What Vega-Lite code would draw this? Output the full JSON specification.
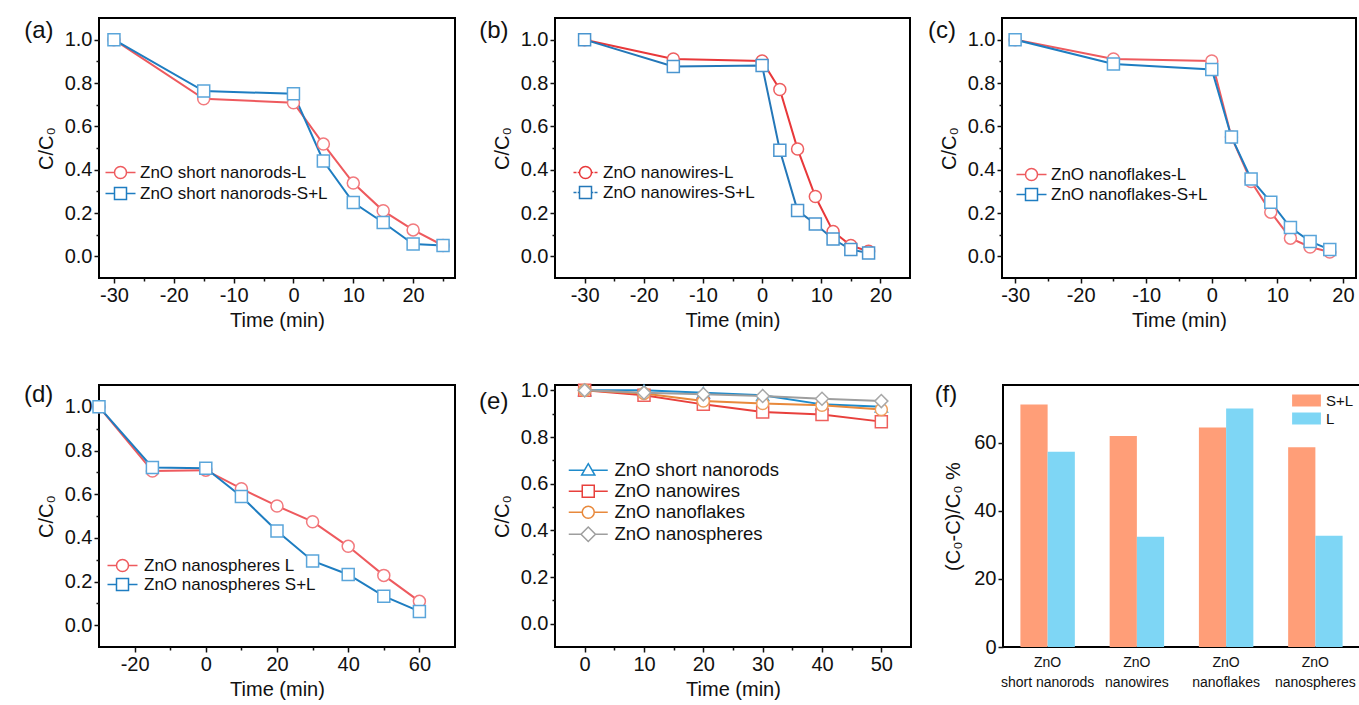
{
  "$schema": "https://vega.github.io/schema/vega-lite/v6.json",
  "background": "white",
  "padding": {"left": 22, "top": 17, "right": 0, "bottom": 0},
  "config": {
    "font": "Liberation Sans",
    "view": {"stroke": "black", "strokeWidth": 2},
    "axis": {"domain": false, "grid": false, "labelFontSize": 20, "titleFontSize": 20, "titleFontWeight": "normal", "labelColor": "#111", "titleColor": "#111", "tickColor": "#111", "tickWidth": 1.5, "labelOverlap": false, "labelFlush": false, "labelPadding": 2},
    "axisX": {"titlePadding": 5},
    "axisY": {"titlePadding": 8},
    "legend": {"labelFontSize": 17, "labelColor": "#111", "padding": 0, "symbolSize": 144, "labelLimit": 400},
    "text": {"fontSize": 24, "color": "#111", "align": "left", "baseline": "alphabetic"}
  },
  "datasets": {
    "a": [
      {"t": -30, "c": 1.0, "s": "ZnO short nanorods-L"},
      {"t": -15, "c": 0.727, "s": "ZnO short nanorods-L"},
      {"t": 0, "c": 0.709, "s": "ZnO short nanorods-L"},
      {"t": 5, "c": 0.518, "s": "ZnO short nanorods-L"},
      {"t": 10, "c": 0.338, "s": "ZnO short nanorods-L"},
      {"t": 15, "c": 0.21, "s": "ZnO short nanorods-L"},
      {"t": 20, "c": 0.122, "s": "ZnO short nanorods-L"},
      {"t": 25, "c": 0.05, "s": "ZnO short nanorods-L"},
      {"t": -30, "c": 1.0, "s": "ZnO short nanorods-S+L"},
      {"t": -15, "c": 0.763, "s": "ZnO short nanorods-S+L"},
      {"t": 0, "c": 0.75, "s": "ZnO short nanorods-S+L"},
      {"t": 5, "c": 0.44, "s": "ZnO short nanorods-S+L"},
      {"t": 10, "c": 0.248, "s": "ZnO short nanorods-S+L"},
      {"t": 15, "c": 0.156, "s": "ZnO short nanorods-S+L"},
      {"t": 20, "c": 0.057, "s": "ZnO short nanorods-S+L"},
      {"t": 25, "c": 0.05, "s": "ZnO short nanorods-S+L"}
    ],
    "b": [
      {"t": -30, "c": 1.0, "s": "ZnO nanowires-L"},
      {"t": -15, "c": 0.911, "s": "ZnO nanowires-L"},
      {"t": 0, "c": 0.902, "s": "ZnO nanowires-L"},
      {"t": 3, "c": 0.77, "s": "ZnO nanowires-L"},
      {"t": 6, "c": 0.495, "s": "ZnO nanowires-L"},
      {"t": 9, "c": 0.276, "s": "ZnO nanowires-L"},
      {"t": 12, "c": 0.115, "s": "ZnO nanowires-L"},
      {"t": 15, "c": 0.05, "s": "ZnO nanowires-L"},
      {"t": 18, "c": 0.023, "s": "ZnO nanowires-L"},
      {"t": -30, "c": 1.0, "s": "ZnO nanowires-S+L"},
      {"t": -15, "c": 0.876, "s": "ZnO nanowires-S+L"},
      {"t": 0, "c": 0.881, "s": "ZnO nanowires-S+L"},
      {"t": 3, "c": 0.49, "s": "ZnO nanowires-S+L"},
      {"t": 6, "c": 0.211, "s": "ZnO nanowires-S+L"},
      {"t": 9, "c": 0.149, "s": "ZnO nanowires-S+L"},
      {"t": 12, "c": 0.08, "s": "ZnO nanowires-S+L"},
      {"t": 15, "c": 0.031, "s": "ZnO nanowires-S+L"},
      {"t": 18, "c": 0.015, "s": "ZnO nanowires-S+L"}
    ],
    "c": [
      {"t": -30, "c": 1.0, "s": "ZnO nanoflakes-L"},
      {"t": -15, "c": 0.911, "s": "ZnO nanoflakes-L"},
      {"t": 0, "c": 0.902, "s": "ZnO nanoflakes-L"},
      {"t": 3, "c": 0.551, "s": "ZnO nanoflakes-L"},
      {"t": 6, "c": 0.345, "s": "ZnO nanoflakes-L"},
      {"t": 9, "c": 0.204, "s": "ZnO nanoflakes-L"},
      {"t": 12, "c": 0.084, "s": "ZnO nanoflakes-L"},
      {"t": 15, "c": 0.043, "s": "ZnO nanoflakes-L"},
      {"t": 18, "c": 0.02, "s": "ZnO nanoflakes-L"},
      {"t": -30, "c": 1.0, "s": "ZnO nanoflakes-S+L"},
      {"t": -15, "c": 0.888, "s": "ZnO nanoflakes-S+L"},
      {"t": 0, "c": 0.862, "s": "ZnO nanoflakes-S+L"},
      {"t": 3, "c": 0.551, "s": "ZnO nanoflakes-S+L"},
      {"t": 6, "c": 0.357, "s": "ZnO nanoflakes-S+L"},
      {"t": 9, "c": 0.25, "s": "ZnO nanoflakes-S+L"},
      {"t": 12, "c": 0.133, "s": "ZnO nanoflakes-S+L"},
      {"t": 15, "c": 0.069, "s": "ZnO nanoflakes-S+L"},
      {"t": 18, "c": 0.031, "s": "ZnO nanoflakes-S+L"}
    ],
    "d": [
      {"t": -30, "c": 1.0, "s": "ZnO nanospheres L"},
      {"t": -15, "c": 0.706, "s": "ZnO nanospheres L"},
      {"t": 0, "c": 0.71, "s": "ZnO nanospheres L"},
      {"t": 10, "c": 0.625, "s": "ZnO nanospheres L"},
      {"t": 20, "c": 0.546, "s": "ZnO nanospheres L"},
      {"t": 30, "c": 0.474, "s": "ZnO nanospheres L"},
      {"t": 40, "c": 0.361, "s": "ZnO nanospheres L"},
      {"t": 50, "c": 0.228, "s": "ZnO nanospheres L"},
      {"t": 60, "c": 0.109, "s": "ZnO nanospheres L"},
      {"t": -30, "c": 1.0, "s": "ZnO nanospheres S+L"},
      {"t": -15, "c": 0.722, "s": "ZnO nanospheres S+L"},
      {"t": 0, "c": 0.719, "s": "ZnO nanospheres S+L"},
      {"t": 10, "c": 0.589, "s": "ZnO nanospheres S+L"},
      {"t": 20, "c": 0.431, "s": "ZnO nanospheres S+L"},
      {"t": 30, "c": 0.294, "s": "ZnO nanospheres S+L"},
      {"t": 40, "c": 0.232, "s": "ZnO nanospheres S+L"},
      {"t": 50, "c": 0.133, "s": "ZnO nanospheres S+L"},
      {"t": 60, "c": 0.063, "s": "ZnO nanospheres S+L"}
    ],
    "e": [
      {"t": 0, "c": 1.0, "s": "ZnO short nanorods"},
      {"t": 10, "c": 1.0, "s": "ZnO short nanorods"},
      {"t": 20, "c": 0.99, "s": "ZnO short nanorods"},
      {"t": 30, "c": 0.979, "s": "ZnO short nanorods"},
      {"t": 40, "c": 0.94, "s": "ZnO short nanorods"},
      {"t": 50, "c": 0.93, "s": "ZnO short nanorods"},
      {"t": 0, "c": 1.0, "s": "ZnO nanowires"},
      {"t": 10, "c": 0.979, "s": "ZnO nanowires"},
      {"t": 20, "c": 0.94, "s": "ZnO nanowires"},
      {"t": 30, "c": 0.907, "s": "ZnO nanowires"},
      {"t": 40, "c": 0.897, "s": "ZnO nanowires"},
      {"t": 50, "c": 0.866, "s": "ZnO nanowires"},
      {"t": 0, "c": 1.0, "s": "ZnO nanoflakes"},
      {"t": 10, "c": 0.987, "s": "ZnO nanoflakes"},
      {"t": 20, "c": 0.954, "s": "ZnO nanoflakes"},
      {"t": 30, "c": 0.944, "s": "ZnO nanoflakes"},
      {"t": 40, "c": 0.936, "s": "ZnO nanoflakes"},
      {"t": 50, "c": 0.918, "s": "ZnO nanoflakes"},
      {"t": 0, "c": 1.0, "s": "ZnO nanospheres"},
      {"t": 10, "c": 0.99, "s": "ZnO nanospheres"},
      {"t": 20, "c": 0.983, "s": "ZnO nanospheres"},
      {"t": 30, "c": 0.976, "s": "ZnO nanospheres"},
      {"t": 40, "c": 0.964, "s": "ZnO nanospheres"},
      {"t": 50, "c": 0.954, "s": "ZnO nanospheres"}
    ],
    "f": [
      {"cat": "ZnO short nanorods", "s": "S+L", "v": 71.3},
      {"cat": "ZnO short nanorods", "s": "L", "v": 57.4},
      {"cat": "ZnO nanowires", "s": "S+L", "v": 62.0},
      {"cat": "ZnO nanowires", "s": "L", "v": 32.4},
      {"cat": "ZnO nanoflakes", "s": "S+L", "v": 64.5},
      {"cat": "ZnO nanoflakes", "s": "L", "v": 70.1},
      {"cat": "ZnO nanospheres", "s": "S+L", "v": 58.7},
      {"cat": "ZnO nanospheres", "s": "L", "v": 32.7}
    ]
  },
  "spacing": 48,
  "resolve": {"scale": {"color": "independent", "x": "independent", "y": "independent", "xOffset": "independent"}, "legend": {"color": "independent"}},
  "vconcat": [
    {
      "spacing": 100,
      "bounds": "flush",
      "resolve": {"scale": {"color": "independent", "x": "independent", "y": "independent"}, "legend": {"color": "independent"}},
      "hconcat": [
        {
          "width": 356, "height": 260,
          "layer": [
            {"data": {"name": "a"}, "mark": {"type": "line", "strokeWidth": 2},
              "encoding": {
                "x": {"field": "t", "type": "quantitative", "title": "Time (min)", "scale": {"domain": [-32.5, 27], "nice": false, "zero": false}, "axis": {"values": [-30, -25, -20, -15, -10, -5, 0, 5, 10, 15, 20, 25], "labelExpr": "datum.value % 10 == 0 ? '' + datum.value : ''", "tickSize": {"condition": {"test": "datum.value % 10 == 0", "value": 5}, "value": 3}}},
                "y": {"field": "c", "type": "quantitative", "title": "C/C₀", "scale": {"domain": [-0.1, 1.1], "nice": false, "zero": false}, "axis": {"values": [0, 0.1, 0.2, 0.3, 0.4, 0.5, 0.6, 0.7, 0.8, 0.9, 1.0], "labelExpr": "round(datum.value * 10) % 2 == 0 ? format(datum.value, '.1f') : ''", "tickSize": {"condition": {"test": "round(datum.value * 10) % 2 == 0", "value": 5}, "value": 3}}},
                "color": {"field": "s", "type": "nominal", "scale": {"domain": ["ZnO short nanorods-L", "ZnO short nanorods-S+L"], "range": ["#EE5A5E", "#1E7DC1"]},
                  "legend": {"title": null, "orient": "none", "legendX": 13, "legendY": 146, "labelOffset": 11, "rowPadding": 2,
                    "encode": {"symbols": {"update": {"shape": {"signal": "indexof(datum.value, 'S+L') >= 0 ? 'M-2.5,0H-1M1,0H2.5M-1,-1H1V1H-1Z' : 'M-2.5,0H-1M1,0H2.5M-1,0A1,1,0,1,1,1,0A1,1,0,1,1,-1,0Z'"}, "fill": {"value": "white"}, "strokeWidth": {"value": 1.5}, "opacity": {"value": 1}}}}}}}},
            {"data": {"name": "a"}, "transform": [{"filter": "datum.s == 'ZnO short nanorods-L'"}], "mark": {"type": "point", "shape": "circle", "filled": true, "fill": "white", "stroke": "#F27A7E", "size": 144, "strokeWidth": 1.5, "opacity": 1},
              "encoding": {
                "x": {"field": "t", "type": "quantitative", "title": "Time (min)", "scale": {"domain": [-32.5, 27], "nice": false, "zero": false}, "axis": {"values": [-30, -25, -20, -15, -10, -5, 0, 5, 10, 15, 20, 25], "labelExpr": "datum.value % 10 == 0 ? '' + datum.value : ''", "tickSize": {"condition": {"test": "datum.value % 10 == 0", "value": 5}, "value": 3}}},
                "y": {"field": "c", "type": "quantitative", "title": "C/C₀", "scale": {"domain": [-0.1, 1.1], "nice": false, "zero": false}, "axis": {"values": [0, 0.1, 0.2, 0.3, 0.4, 0.5, 0.6, 0.7, 0.8, 0.9, 1.0], "labelExpr": "round(datum.value * 10) % 2 == 0 ? format(datum.value, '.1f') : ''", "tickSize": {"condition": {"test": "round(datum.value * 10) % 2 == 0", "value": 5}, "value": 3}}}}},
            {"data": {"name": "a"}, "transform": [{"filter": "datum.s == 'ZnO short nanorods-S+L'"}], "mark": {"type": "point", "shape": "square", "filled": true, "fill": "white", "stroke": "#5AA5DA", "size": 144, "strokeWidth": 1.5, "opacity": 1},
              "encoding": {
                "x": {"field": "t", "type": "quantitative", "title": "Time (min)", "scale": {"domain": [-32.5, 27], "nice": false, "zero": false}, "axis": {"values": [-30, -25, -20, -15, -10, -5, 0, 5, 10, 15, 20, 25], "labelExpr": "datum.value % 10 == 0 ? '' + datum.value : ''", "tickSize": {"condition": {"test": "datum.value % 10 == 0", "value": 5}, "value": 3}}},
                "y": {"field": "c", "type": "quantitative", "title": "C/C₀", "scale": {"domain": [-0.1, 1.1], "nice": false, "zero": false}, "axis": {"values": [0, 0.1, 0.2, 0.3, 0.4, 0.5, 0.6, 0.7, 0.8, 0.9, 1.0], "labelExpr": "round(datum.value * 10) % 2 == 0 ? format(datum.value, '.1f') : ''", "tickSize": {"condition": {"test": "round(datum.value * 10) % 2 == 0", "value": 5}, "value": 3}}}}},
            {"data": {"values": [{"label": "(a)"}]}, "mark": {"type": "text"},
              "encoding": {
                "x": {"datum": -45, "type": "quantitative", "title": "Time (min)", "scale": {"domain": [-32.5, 27], "nice": false, "zero": false}, "axis": {"values": [-30, -25, -20, -15, -10, -5, 0, 5, 10, 15, 20, 25], "labelExpr": "datum.value % 10 == 0 ? '' + datum.value : ''", "tickSize": {"condition": {"test": "datum.value % 10 == 0", "value": 5}, "value": 3}}},
                "y": {"datum": 1.008, "type": "quantitative", "title": "C/C₀", "scale": {"domain": [-0.1, 1.1], "nice": false, "zero": false}, "axis": {"values": [0, 0.1, 0.2, 0.3, 0.4, 0.5, 0.6, 0.7, 0.8, 0.9, 1.0], "labelExpr": "round(datum.value * 10) % 2 == 0 ? format(datum.value, '.1f') : ''", "tickSize": {"condition": {"test": "round(datum.value * 10) % 2 == 0", "value": 5}, "value": 3}}},
                "text": {"field": "label"}}}
          ]
        },
        {
          "spacing": 92,
          "bounds": "flush",
          "resolve": {"scale": {"color": "independent", "x": "independent", "y": "independent"}, "legend": {"color": "independent"}},
          "hconcat": [
            {
              "width": 355, "height": 260,
              "layer": [
                {"data": {"name": "b"}, "mark": {"type": "line", "strokeWidth": 2},
                  "encoding": {
                    "x": {"field": "t", "type": "quantitative", "title": "Time (min)", "scale": {"domain": [-35, 25], "nice": false, "zero": false}, "axis": {"values": [-30, -25, -20, -15, -10, -5, 0, 5, 10, 15, 20], "labelExpr": "datum.value % 10 == 0 ? '' + datum.value : ''", "tickSize": {"condition": {"test": "datum.value % 10 == 0", "value": 5}, "value": 3}}},
                    "y": {"field": "c", "type": "quantitative", "title": "C/C₀", "scale": {"domain": [-0.1, 1.1], "nice": false, "zero": false}, "axis": {"values": [0, 0.1, 0.2, 0.3, 0.4, 0.5, 0.6, 0.7, 0.8, 0.9, 1.0], "labelExpr": "round(datum.value * 10) % 2 == 0 ? format(datum.value, '.1f') : ''", "tickSize": {"condition": {"test": "round(datum.value * 10) % 2 == 0", "value": 5}, "value": 3}}},
                    "color": {"field": "s", "type": "nominal", "scale": {"domain": ["ZnO nanowires-L", "ZnO nanowires-S+L"], "range": ["#E8383A", "#2477B8"]},
                      "legend": {"title": null, "orient": "none", "legendX": 22, "legendY": 146, "labelOffset": 9, "rowPadding": 1,
                        "encode": {"symbols": {"update": {"shape": {"signal": "indexof(datum.value, 'S+L') >= 0 ? 'M-2,0H-1.5M-1.3,0H-1M1,0H1.3M1.5,0H2M-1,-1H1V1H-1Z' : 'M-2,0H-1.5M-1.3,0H-1M1,0H1.3M1.5,0H2M-1,0A1,1,0,1,1,1,0A1,1,0,1,1,-1,0Z'"}, "fill": {"value": "white"}, "strokeWidth": {"value": 1.5}, "opacity": {"value": 1}}}}}}}},
                {"data": {"name": "b"}, "transform": [{"filter": "datum.s == 'ZnO nanowires-L'"}], "mark": {"type": "point", "shape": "circle", "filled": true, "fill": "white", "stroke": "#EE5F60", "size": 144, "strokeWidth": 1.5, "opacity": 1},
                  "encoding": {
                    "x": {"field": "t", "type": "quantitative", "title": "Time (min)", "scale": {"domain": [-35, 25], "nice": false, "zero": false}, "axis": {"values": [-30, -25, -20, -15, -10, -5, 0, 5, 10, 15, 20], "labelExpr": "datum.value % 10 == 0 ? '' + datum.value : ''", "tickSize": {"condition": {"test": "datum.value % 10 == 0", "value": 5}, "value": 3}}},
                    "y": {"field": "c", "type": "quantitative", "title": "C/C₀", "scale": {"domain": [-0.1, 1.1], "nice": false, "zero": false}, "axis": {"values": [0, 0.1, 0.2, 0.3, 0.4, 0.5, 0.6, 0.7, 0.8, 0.9, 1.0], "labelExpr": "round(datum.value * 10) % 2 == 0 ? format(datum.value, '.1f') : ''", "tickSize": {"condition": {"test": "round(datum.value * 10) % 2 == 0", "value": 5}, "value": 3}}}}},
                {"data": {"name": "b"}, "transform": [{"filter": "datum.s == 'ZnO nanowires-S+L'"}], "mark": {"type": "point", "shape": "square", "filled": true, "fill": "white", "stroke": "#4A95CF", "size": 144, "strokeWidth": 1.5, "opacity": 1},
                  "encoding": {
                    "x": {"field": "t", "type": "quantitative", "title": "Time (min)", "scale": {"domain": [-35, 25], "nice": false, "zero": false}, "axis": {"values": [-30, -25, -20, -15, -10, -5, 0, 5, 10, 15, 20], "labelExpr": "datum.value % 10 == 0 ? '' + datum.value : ''", "tickSize": {"condition": {"test": "datum.value % 10 == 0", "value": 5}, "value": 3}}},
                    "y": {"field": "c", "type": "quantitative", "title": "C/C₀", "scale": {"domain": [-0.1, 1.1], "nice": false, "zero": false}, "axis": {"values": [0, 0.1, 0.2, 0.3, 0.4, 0.5, 0.6, 0.7, 0.8, 0.9, 1.0], "labelExpr": "round(datum.value * 10) % 2 == 0 ? format(datum.value, '.1f') : ''", "tickSize": {"condition": {"test": "round(datum.value * 10) % 2 == 0", "value": 5}, "value": 3}}}}},
                {"data": {"values": [{"label": "(b)"}]}, "mark": {"type": "text"},
                  "encoding": {
                    "x": {"datum": -47.8, "type": "quantitative", "title": "Time (min)", "scale": {"domain": [-35, 25], "nice": false, "zero": false}, "axis": {"values": [-30, -25, -20, -15, -10, -5, 0, 5, 10, 15, 20], "labelExpr": "datum.value % 10 == 0 ? '' + datum.value : ''", "tickSize": {"condition": {"test": "datum.value % 10 == 0", "value": 5}, "value": 3}}},
                    "y": {"datum": 1.008, "type": "quantitative", "title": "C/C₀", "scale": {"domain": [-0.1, 1.1], "nice": false, "zero": false}, "axis": {"values": [0, 0.1, 0.2, 0.3, 0.4, 0.5, 0.6, 0.7, 0.8, 0.9, 1.0], "labelExpr": "round(datum.value * 10) % 2 == 0 ? format(datum.value, '.1f') : ''", "tickSize": {"condition": {"test": "round(datum.value * 10) % 2 == 0", "value": 5}, "value": 3}}},
                    "text": {"field": "label"}}}
              ]
            },
            {
              "width": 354, "height": 260,
              "layer": [
                {"data": {"name": "c"}, "mark": {"type": "line", "strokeWidth": 2},
                  "encoding": {
                    "x": {"field": "t", "type": "quantitative", "title": "Time (min)", "scale": {"domain": [-32, 22], "nice": false, "zero": false}, "axis": {"values": [-30, -25, -20, -15, -10, -5, 0, 5, 10, 15, 20], "labelExpr": "datum.value % 10 == 0 ? '' + datum.value : ''", "tickSize": {"condition": {"test": "datum.value % 10 == 0", "value": 5}, "value": 3}}},
                    "y": {"field": "c", "type": "quantitative", "title": "C/C₀", "scale": {"domain": [-0.1, 1.1], "nice": false, "zero": false}, "axis": {"values": [0, 0.1, 0.2, 0.3, 0.4, 0.5, 0.6, 0.7, 0.8, 0.9, 1.0], "labelExpr": "round(datum.value * 10) % 2 == 0 ? format(datum.value, '.1f') : ''", "tickSize": {"condition": {"test": "round(datum.value * 10) % 2 == 0", "value": 5}, "value": 3}}},
                    "color": {"field": "s", "type": "nominal", "scale": {"domain": ["ZnO nanoflakes-L", "ZnO nanoflakes-S+L"], "range": ["#EE5A5E", "#1E7DC1"]},
                      "legend": {"title": null, "orient": "none", "legendX": 21, "legendY": 148, "labelOffset": 11, "rowPadding": 1,
                        "encode": {"symbols": {"update": {"shape": {"signal": "indexof(datum.value, 'S+L') >= 0 ? 'M-2.5,0H-1M1,0H2.5M-1,-1H1V1H-1Z' : 'M-2.5,0H-1M1,0H2.5M-1,0A1,1,0,1,1,1,0A1,1,0,1,1,-1,0Z'"}, "fill": {"value": "white"}, "strokeWidth": {"value": 1.5}, "opacity": {"value": 1}}}}}}}},
                {"data": {"name": "c"}, "transform": [{"filter": "datum.s == 'ZnO nanoflakes-L'"}], "mark": {"type": "point", "shape": "circle", "filled": true, "fill": "white", "stroke": "#F27A7E", "size": 144, "strokeWidth": 1.5, "opacity": 1},
                  "encoding": {
                    "x": {"field": "t", "type": "quantitative", "title": "Time (min)", "scale": {"domain": [-32, 22], "nice": false, "zero": false}, "axis": {"values": [-30, -25, -20, -15, -10, -5, 0, 5, 10, 15, 20], "labelExpr": "datum.value % 10 == 0 ? '' + datum.value : ''", "tickSize": {"condition": {"test": "datum.value % 10 == 0", "value": 5}, "value": 3}}},
                    "y": {"field": "c", "type": "quantitative", "title": "C/C₀", "scale": {"domain": [-0.1, 1.1], "nice": false, "zero": false}, "axis": {"values": [0, 0.1, 0.2, 0.3, 0.4, 0.5, 0.6, 0.7, 0.8, 0.9, 1.0], "labelExpr": "round(datum.value * 10) % 2 == 0 ? format(datum.value, '.1f') : ''", "tickSize": {"condition": {"test": "round(datum.value * 10) % 2 == 0", "value": 5}, "value": 3}}}}},
                {"data": {"name": "c"}, "transform": [{"filter": "datum.s == 'ZnO nanoflakes-S+L'"}], "mark": {"type": "point", "shape": "square", "filled": true, "fill": "white", "stroke": "#5AA5DA", "size": 144, "strokeWidth": 1.5, "opacity": 1},
                  "encoding": {
                    "x": {"field": "t", "type": "quantitative", "title": "Time (min)", "scale": {"domain": [-32, 22], "nice": false, "zero": false}, "axis": {"values": [-30, -25, -20, -15, -10, -5, 0, 5, 10, 15, 20], "labelExpr": "datum.value % 10 == 0 ? '' + datum.value : ''", "tickSize": {"condition": {"test": "datum.value % 10 == 0", "value": 5}, "value": 3}}},
                    "y": {"field": "c", "type": "quantitative", "title": "C/C₀", "scale": {"domain": [-0.1, 1.1], "nice": false, "zero": false}, "axis": {"values": [0, 0.1, 0.2, 0.3, 0.4, 0.5, 0.6, 0.7, 0.8, 0.9, 1.0], "labelExpr": "round(datum.value * 10) % 2 == 0 ? format(datum.value, '.1f') : ''", "tickSize": {"condition": {"test": "round(datum.value * 10) % 2 == 0", "value": 5}, "value": 3}}}}},
                {"data": {"values": [{"label": "(c)"}]}, "mark": {"type": "text"},
                  "encoding": {
                    "x": {"datum": -43.3, "type": "quantitative", "title": "Time (min)", "scale": {"domain": [-32, 22], "nice": false, "zero": false}, "axis": {"values": [-30, -25, -20, -15, -10, -5, 0, 5, 10, 15, 20], "labelExpr": "datum.value % 10 == 0 ? '' + datum.value : ''", "tickSize": {"condition": {"test": "datum.value % 10 == 0", "value": 5}, "value": 3}}},
                    "y": {"datum": 1.008, "type": "quantitative", "title": "C/C₀", "scale": {"domain": [-0.1, 1.1], "nice": false, "zero": false}, "axis": {"values": [0, 0.1, 0.2, 0.3, 0.4, 0.5, 0.6, 0.7, 0.8, 0.9, 1.0], "labelExpr": "round(datum.value * 10) % 2 == 0 ? format(datum.value, '.1f') : ''", "tickSize": {"condition": {"test": "round(datum.value * 10) % 2 == 0", "value": 5}, "value": 3}}},
                    "text": {"field": "label"}}}
              ]
            }
          ]
        }
      ]
    },
    {
      "spacing": 100,
      "bounds": "flush",
      "resolve": {"scale": {"color": "independent", "x": "independent", "y": "independent"}, "legend": {"color": "independent"}},
      "hconcat": [
        {
          "width": 356, "height": 262,
          "layer": [
            {"data": {"name": "d"}, "mark": {"type": "line", "strokeWidth": 2},
              "encoding": {
                "x": {"field": "t", "type": "quantitative", "title": "Time (min)", "scale": {"domain": [-30, 70], "nice": false, "zero": false}, "axis": {"values": [-20, -10, 0, 10, 20, 30, 40, 50, 60], "labelExpr": "datum.value % 20 == 0 ? '' + datum.value : ''", "tickSize": {"condition": {"test": "datum.value % 20 == 0", "value": 5}, "value": 3}}},
                "y": {"field": "c", "type": "quantitative", "title": "C/C₀", "scale": {"domain": [-0.1, 1.1], "nice": false, "zero": false}, "axis": {"values": [0, 0.1, 0.2, 0.3, 0.4, 0.5, 0.6, 0.7, 0.8, 0.9, 1.0], "labelExpr": "round(datum.value * 10) % 2 == 0 ? format(datum.value, '.1f') : ''", "tickSize": {"condition": {"test": "round(datum.value * 10) % 2 == 0", "value": 5}, "value": 3}}},
                "color": {"field": "s", "type": "nominal", "scale": {"domain": ["ZnO nanospheres L", "ZnO nanospheres S+L"], "range": ["#EE5A5E", "#1E7DC1"]},
                  "legend": {"title": null, "orient": "none", "legendX": 15, "legendY": 172, "labelOffset": 13, "rowPadding": 0,
                    "encode": {"symbols": {"update": {"shape": {"signal": "indexof(datum.value, 'S+L') >= 0 ? 'M-2.5,0H-1M1,0H2.5M-1,-1H1V1H-1Z' : 'M-2.5,0H-1M1,0H2.5M-1,0A1,1,0,1,1,1,0A1,1,0,1,1,-1,0Z'"}, "fill": {"value": "white"}, "strokeWidth": {"value": 1.5}, "opacity": {"value": 1}}}}}}}},
            {"data": {"name": "d"}, "transform": [{"filter": "datum.s == 'ZnO nanospheres L'"}], "mark": {"type": "point", "shape": "circle", "filled": true, "fill": "white", "stroke": "#F27A7E", "size": 144, "strokeWidth": 1.5, "opacity": 1},
              "encoding": {
                "x": {"field": "t", "type": "quantitative", "title": "Time (min)", "scale": {"domain": [-30, 70], "nice": false, "zero": false}, "axis": {"values": [-20, -10, 0, 10, 20, 30, 40, 50, 60], "labelExpr": "datum.value % 20 == 0 ? '' + datum.value : ''", "tickSize": {"condition": {"test": "datum.value % 20 == 0", "value": 5}, "value": 3}}},
                "y": {"field": "c", "type": "quantitative", "title": "C/C₀", "scale": {"domain": [-0.1, 1.1], "nice": false, "zero": false}, "axis": {"values": [0, 0.1, 0.2, 0.3, 0.4, 0.5, 0.6, 0.7, 0.8, 0.9, 1.0], "labelExpr": "round(datum.value * 10) % 2 == 0 ? format(datum.value, '.1f') : ''", "tickSize": {"condition": {"test": "round(datum.value * 10) % 2 == 0", "value": 5}, "value": 3}}}}},
            {"data": {"name": "d"}, "transform": [{"filter": "datum.s == 'ZnO nanospheres S+L'"}], "mark": {"type": "point", "shape": "square", "filled": true, "fill": "white", "stroke": "#5AA5DA", "size": 144, "strokeWidth": 1.5, "opacity": 1},
              "encoding": {
                "x": {"field": "t", "type": "quantitative", "title": "Time (min)", "scale": {"domain": [-30, 70], "nice": false, "zero": false}, "axis": {"values": [-20, -10, 0, 10, 20, 30, 40, 50, 60], "labelExpr": "datum.value % 20 == 0 ? '' + datum.value : ''", "tickSize": {"condition": {"test": "datum.value % 20 == 0", "value": 5}, "value": 3}}},
                "y": {"field": "c", "type": "quantitative", "title": "C/C₀", "scale": {"domain": [-0.1, 1.1], "nice": false, "zero": false}, "axis": {"values": [0, 0.1, 0.2, 0.3, 0.4, 0.5, 0.6, 0.7, 0.8, 0.9, 1.0], "labelExpr": "round(datum.value * 10) % 2 == 0 ? format(datum.value, '.1f') : ''", "tickSize": {"condition": {"test": "round(datum.value * 10) % 2 == 0", "value": 5}, "value": 3}}}}},
            {"data": {"values": [{"label": "(d)"}]}, "mark": {"type": "text"},
              "encoding": {
                "x": {"datum": -51.07, "type": "quantitative", "title": "Time (min)", "scale": {"domain": [-30, 70], "nice": false, "zero": false}, "axis": {"values": [-20, -10, 0, 10, 20, 30, 40, 50, 60], "labelExpr": "datum.value % 20 == 0 ? '' + datum.value : ''", "tickSize": {"condition": {"test": "datum.value % 20 == 0", "value": 5}, "value": 3}}},
                "y": {"datum": 1.022, "type": "quantitative", "title": "C/C₀", "scale": {"domain": [-0.1, 1.1], "nice": false, "zero": false}, "axis": {"values": [0, 0.1, 0.2, 0.3, 0.4, 0.5, 0.6, 0.7, 0.8, 0.9, 1.0], "labelExpr": "round(datum.value * 10) % 2 == 0 ? format(datum.value, '.1f') : ''", "tickSize": {"condition": {"test": "round(datum.value * 10) % 2 == 0", "value": 5}, "value": 3}}},
                "text": {"field": "label"}}}
          ]
        },
        {
          "spacing": 92,
          "bounds": "flush",
          "resolve": {"scale": {"color": "independent", "x": "independent", "y": "independent", "xOffset": "independent"}, "legend": {"color": "independent"}},
          "hconcat": [
            {
              "width": 356, "height": 262,
              "layer": [
                {"data": {"name": "e"}, "mark": {"type": "line", "strokeWidth": 2},
                  "encoding": {
                    "x": {"field": "t", "type": "quantitative", "title": "Time (min)", "scale": {"domain": [-5, 55], "nice": false, "zero": false}, "axis": {"values": [0, 5, 10, 15, 20, 25, 30, 35, 40, 45, 50], "labelExpr": "datum.value % 10 == 0 ? '' + datum.value : ''", "tickSize": {"condition": {"test": "datum.value % 10 == 0", "value": 5}, "value": 3}}},
                    "y": {"field": "c", "type": "quantitative", "title": "C/C₀", "scale": {"domain": [-0.1, 1.023], "nice": false, "zero": false}, "axis": {"values": [0, 0.1, 0.2, 0.3, 0.4, 0.5, 0.6, 0.7, 0.8, 0.9, 1.0], "labelExpr": "round(datum.value * 10) % 2 == 0 ? format(datum.value, '.1f') : ''", "tickSize": {"condition": {"test": "round(datum.value * 10) % 2 == 0", "value": 5}, "value": 3}}},
                    "color": {"field": "s", "type": "nominal", "scale": {"domain": ["ZnO short nanorods", "ZnO nanowires", "ZnO nanoflakes", "ZnO nanospheres"], "range": ["#1F8BCB", "#E8403C", "#E8893C", "#9E9E9E"]},
                      "legend": {"title": null, "orient": "none", "legendX": 24, "legendY": 76, "labelOffset": 17, "rowPadding": 2, "labelFontSize": 18.5,
                        "encode": {"symbols": {"update": {"shape": {"signal": "datum.value == 'ZnO short nanorods' ? 'M-3.25,0H-0.64M0.64,0H3.25M0,-1.1L1.1,0.8L-1.1,0.8Z' : datum.value == 'ZnO nanowires' ? 'M-3.25,0H-1M1,0H3.25M-1,-1H1V1H-1Z' : datum.value == 'ZnO nanoflakes' ? 'M-3.25,0H-1M1,0H3.25M-1,0A1,1,0,1,1,1,0A1,1,0,1,1,-1,0Z' : 'M-3.25,0H-1.2M1.2,0H3.25M0,-1.2L1.2,0L0,1.2L-1.2,0Z'"}, "fill": {"value": "white"}, "strokeWidth": {"value": 1.5}, "opacity": {"value": 1}}}}}}}},
                {"data": {"name": "e"}, "transform": [{"filter": "datum.s == 'ZnO short nanorods'"}], "mark": {"type": "point", "shape": "triangle-up", "filled": true, "fill": "white", "stroke": "#4AA3DA", "size": 150, "strokeWidth": 1.5, "opacity": 1},
                  "encoding": {
                    "x": {"field": "t", "type": "quantitative", "title": "Time (min)", "scale": {"domain": [-5, 55], "nice": false, "zero": false}, "axis": {"values": [0, 5, 10, 15, 20, 25, 30, 35, 40, 45, 50], "labelExpr": "datum.value % 10 == 0 ? '' + datum.value : ''", "tickSize": {"condition": {"test": "datum.value % 10 == 0", "value": 5}, "value": 3}}},
                    "y": {"field": "c", "type": "quantitative", "title": "C/C₀", "scale": {"domain": [-0.1, 1.023], "nice": false, "zero": false}, "axis": {"values": [0, 0.1, 0.2, 0.3, 0.4, 0.5, 0.6, 0.7, 0.8, 0.9, 1.0], "labelExpr": "round(datum.value * 10) % 2 == 0 ? format(datum.value, '.1f') : ''", "tickSize": {"condition": {"test": "round(datum.value * 10) % 2 == 0", "value": 5}, "value": 3}}}}},
                {"data": {"name": "e"}, "transform": [{"filter": "datum.s == 'ZnO nanowires'"}], "mark": {"type": "point", "shape": "square", "filled": true, "fill": "white", "stroke": "#EE5F5C", "size": 144, "strokeWidth": 1.5, "opacity": 1},
                  "encoding": {
                    "x": {"field": "t", "type": "quantitative", "title": "Time (min)", "scale": {"domain": [-5, 55], "nice": false, "zero": false}, "axis": {"values": [0, 5, 10, 15, 20, 25, 30, 35, 40, 45, 50], "labelExpr": "datum.value % 10 == 0 ? '' + datum.value : ''", "tickSize": {"condition": {"test": "datum.value % 10 == 0", "value": 5}, "value": 3}}},
                    "y": {"field": "c", "type": "quantitative", "title": "C/C₀", "scale": {"domain": [-0.1, 1.023], "nice": false, "zero": false}, "axis": {"values": [0, 0.1, 0.2, 0.3, 0.4, 0.5, 0.6, 0.7, 0.8, 0.9, 1.0], "labelExpr": "round(datum.value * 10) % 2 == 0 ? format(datum.value, '.1f') : ''", "tickSize": {"condition": {"test": "round(datum.value * 10) % 2 == 0", "value": 5}, "value": 3}}}}},
                {"data": {"name": "e"}, "transform": [{"filter": "datum.s == 'ZnO nanoflakes'"}], "mark": {"type": "point", "shape": "circle", "filled": true, "fill": "white", "stroke": "#EEA05E", "size": 144, "strokeWidth": 1.5, "opacity": 1},
                  "encoding": {
                    "x": {"field": "t", "type": "quantitative", "title": "Time (min)", "scale": {"domain": [-5, 55], "nice": false, "zero": false}, "axis": {"values": [0, 5, 10, 15, 20, 25, 30, 35, 40, 45, 50], "labelExpr": "datum.value % 10 == 0 ? '' + datum.value : ''", "tickSize": {"condition": {"test": "datum.value % 10 == 0", "value": 5}, "value": 3}}},
                    "y": {"field": "c", "type": "quantitative", "title": "C/C₀", "scale": {"domain": [-0.1, 1.023], "nice": false, "zero": false}, "axis": {"values": [0, 0.1, 0.2, 0.3, 0.4, 0.5, 0.6, 0.7, 0.8, 0.9, 1.0], "labelExpr": "round(datum.value * 10) % 2 == 0 ? format(datum.value, '.1f') : ''", "tickSize": {"condition": {"test": "round(datum.value * 10) % 2 == 0", "value": 5}, "value": 3}}}}},
                {"data": {"name": "e"}, "transform": [{"filter": "datum.s == 'ZnO nanospheres'"}], "mark": {"type": "point", "shape": "diamond", "filled": true, "fill": "white", "stroke": "#A8A8A8", "size": 170, "strokeWidth": 1.5, "opacity": 1},
                  "encoding": {
                    "x": {"field": "t", "type": "quantitative", "title": "Time (min)", "scale": {"domain": [-5, 55], "nice": false, "zero": false}, "axis": {"values": [0, 5, 10, 15, 20, 25, 30, 35, 40, 45, 50], "labelExpr": "datum.value % 10 == 0 ? '' + datum.value : ''", "tickSize": {"condition": {"test": "datum.value % 10 == 0", "value": 5}, "value": 3}}},
                    "y": {"field": "c", "type": "quantitative", "title": "C/C₀", "scale": {"domain": [-0.1, 1.023], "nice": false, "zero": false}, "axis": {"values": [0, 0.1, 0.2, 0.3, 0.4, 0.5, 0.6, 0.7, 0.8, 0.9, 1.0], "labelExpr": "round(datum.value * 10) % 2 == 0 ? format(datum.value, '.1f') : ''", "tickSize": {"condition": {"test": "round(datum.value * 10) % 2 == 0", "value": 5}, "value": 3}}}}},
                {"data": {"values": [{"label": "(e)"}]}, "mark": {"type": "text"},
                  "encoding": {
                    "x": {"datum": -17.8, "type": "quantitative", "title": "Time (min)", "scale": {"domain": [-5, 55], "nice": false, "zero": false}, "axis": {"values": [0, 5, 10, 15, 20, 25, 30, 35, 40, 45, 50], "labelExpr": "datum.value % 10 == 0 ? '' + datum.value : ''", "tickSize": {"condition": {"test": "datum.value % 10 == 0", "value": 5}, "value": 3}}},
                    "y": {"datum": 0.92, "type": "quantitative", "title": "C/C₀", "scale": {"domain": [-0.1, 1.023], "nice": false, "zero": false}, "axis": {"values": [0, 0.1, 0.2, 0.3, 0.4, 0.5, 0.6, 0.7, 0.8, 0.9, 1.0], "labelExpr": "round(datum.value * 10) % 2 == 0 ? format(datum.value, '.1f') : ''", "tickSize": {"condition": {"test": "round(datum.value * 10) % 2 == 0", "value": 5}, "value": 3}}},
                    "text": {"field": "label"}}}
              ]
            },
            {
              "width": 357, "height": 262,
              "layer": [
                {
                  "data": {"name": "f"},
                  "mark": {"type": "bar"},
                  "encoding": {
                    "x": {"field": "cat", "type": "nominal", "sort": ["ZnO short nanorods", "ZnO nanowires", "ZnO nanoflakes", "ZnO nanospheres"],
                      "scale": {"paddingInner": 0.39, "paddingOuter": 0.195},
                      "axis": {"title": null, "labelAngle": 0, "ticks": false, "labelExpr": "['ZnO', substring(datum.value, 4)]", "labelFontSize": 14, "labelLineHeight": 20, "labelPadding": 8, "labelBaseline": "top"}},
                    "xOffset": {"field": "s", "type": "nominal", "sort": ["S+L", "L"], "scale": {"paddingInner": 0, "paddingOuter": 0}},
                    "y": {"field": "v", "type": "quantitative", "scale": {"domain": [0, 77], "nice": false, "zero": true},
                      "axis": {"title": "(C₀-C)/C₀ %", "values": [0, 10, 20, 30, 40, 50, 60, 70], "labelExpr": "datum.value % 20 == 0 ? '' + datum.value : ''", "tickSize": {"condition": {"test": "datum.value % 20 == 0", "value": 5}, "value": 3}, "titlePadding": 10}},
                    "color": {"field": "s", "type": "nominal", "sort": ["S+L", "L"], "scale": {"domain": ["S+L", "L"], "range": ["#FF9E78", "#7ED6F5"]},
                      "legend": {"title": null, "orient": "none", "legendX": 296, "legendY": 8, "labelFontSize": 15, "symbolType": "M-2.4,-1H2.4V1H-2.4Z", "symbolSize": 144, "labelOffset": 12, "rowPadding": 2, "symbolStrokeWidth": 0}}
                  }
                },
                {
                  "data": {"values": [{"label": "(f)"}]},
                  "mark": {"type": "text", "dx": -113},
                  "encoding": {"x": {"datum": "ZnO short nanorods"}, "y": {"datum": 72}, "text": {"field": "label"}}
                }
              ]
            }
          ]
        }
      ]
    }
  ]
}
